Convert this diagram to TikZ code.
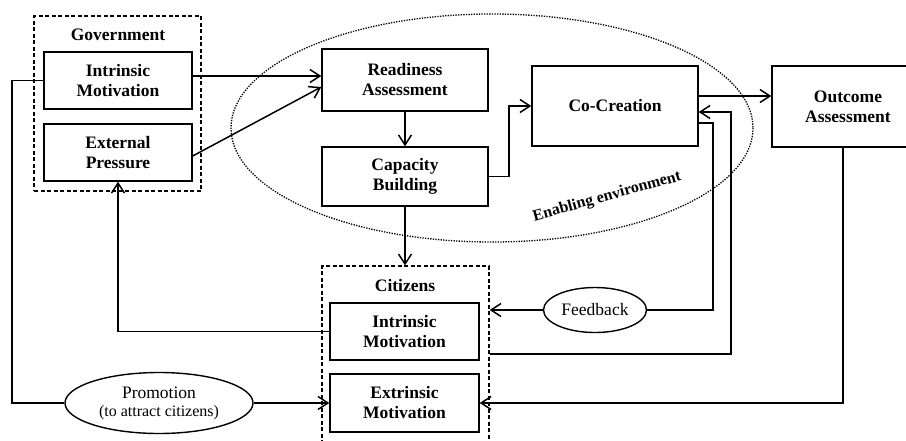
\documentclass[tikz,border=0pt]{standalone}
\usepackage{fontspec}
\setmainfont{Liberation Serif}
\usetikzlibrary{arrows.meta,shapes.geometric}

\tikzset{
  box/.style={draw,line width=1.4pt,align=center,inner sep=0pt,
    font=\fontsize{17.5}{20}\selectfont\bfseries},
  group/.style={draw,line width=1.3pt,dash pattern=on 4pt off 2.5pt,inner sep=0pt},
  oval/.style={draw,ellipse,line width=1.4pt,align=center,inner sep=0pt,
    font=\fontsize{17.5}{19}\selectfont},
  arr/.style={-{Straight Barb[length=10pt,width=13pt]}},
  link/.style={line width=1.5pt}
}

\begin{document}
\begin{tikzpicture}[x=1pt,y=-1pt]
% page frame as in the reference (906 x 440)
\path[use as bounding box,clip] (0,0) rectangle (906,440);

% enabling environment
\draw[line width=1.3pt,dash pattern=on 1.3pt off 1.3pt] (492,128) ellipse [x radius=261,y radius=114];
\node[font=\fontsize{16}{18}\selectfont\bfseries,rotate=15.5] (env) at (607,197) {Enabling environment};

% government side
\node[group,minimum width=167,minimum height=175] (gov) at (117.5,103.5) {};
\node[font=\fontsize{17.5}{20}\selectfont\bfseries] (govlbl) at (118,35) {Government};
\node[box,minimum width=148,minimum height=57] (govint) at (118,80.5) {Intrinsic\\Motivation};
\node[box,minimum width=148,minimum height=57] (govext) at (118,152.5) {External\\Pressure};

% process steps
\node[box,minimum width=166,minimum height=62] (ready) at (405,80) {Readiness\\Assessment};
\node[box,minimum width=166,minimum height=59] (capac) at (405,176.5) {Capacity\\Building};
\node[box,minimum width=166,minimum height=80] (cocre) at (615,106) {Co-Creation};
\node[box,minimum width=152,minimum height=81] (outcome) at (848,106.5) {Outcome\\Assessment};

% citizens side
\node[group,minimum width=167,minimum height=194] (citz) at (405.5,363) {};
\node[font=\fontsize{17.5}{20}\selectfont\bfseries] (citlbl) at (405,286) {Citizens};
\node[box,minimum width=149,minimum height=57] (citint) at (404.5,331.5) {Intrinsic\\Motivation};
\node[box,minimum width=149,minimum height=58] (citext) at (404.5,403) {Extrinsic\\Motivation};

% ellipses
\node[oval,minimum width=188,minimum height=61] (promo) at (159,403)
  {Promotion\\[-1pt]{\fontsize{16}{17}\selectfont(to attract citizens)}};
\node[oval,minimum width=103,minimum height=45] (feedback) at (595,310) {Feedback};

% connectors
\draw[link,arr] (govint.east |- 0,76) -- (ready.west |- 0,76);
\draw[link,arr] (govext.east |- 0,156) -- (ready.west |- 0,87);
\draw[link,arr] (ready.south) -- (capac.north);
\draw[link,arr] (capac.east) -- (509,176.5) |- (cocre.west);
\draw[link,arr] (cocre.east |- 0,96) -- (outcome.west |- 0,96);
\draw[link,arr] (capac.south) -- (capac.south |- citz.north);
\draw[link] (cocre.east |- 0,123) -- (713,123) |- (feedback.east);
\draw[link,arr] (feedback.west) -- (feedback.west -| citz.east);
\draw[link,arr] (citz.east |- 0,354) -- (731,354) |- (cocre.east |- 0,112);
\draw[link,arr] (outcome.south -| 843,0) |- (citext.east);
\draw[link,arr] (citint.west) -| (govext.south);
\draw[link] (govint.west) -- (12,80.5) |- (promo.west);
\draw[link,arr] (promo.east) -- (citext.west);

\end{tikzpicture}
\end{document}
